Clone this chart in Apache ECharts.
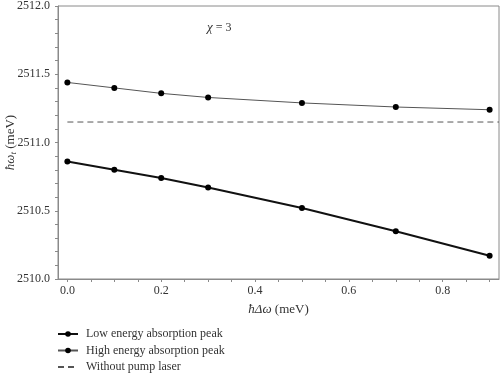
<!DOCTYPE html>
<html>
<head>
<meta charset="utf-8">
<script src="https://cdn.jsdelivr.net/npm/echarts@6/dist/echarts.min.js"></script>
<style>
  html, body { margin: 0; padding: 0; background: #fff; }
  #chart { width: 500px; height: 376px; }
</style>
</head>
<body>
<div id="chart"></div>
<script>
// detuning values (meV)
const detuning = [0.0, 0.1, 0.2, 0.3, 0.5, 0.7, 0.9];
const lowPeak = [2510.86, 2510.80, 2510.74, 2510.67, 2510.52, 2510.35, 2510.17];
const highPeak = [2511.44, 2511.40, 2511.36, 2511.33, 2511.29, 2511.26, 2511.24];
const noPumpX = [0.0, 0.92];
const noPumpLevel = 2511.15;
const xTickLabels = [0.0, 0.2, 0.4, 0.6, 0.8];
const xMinorTicks = [0, 0.05, 0.1, 0.15, 0.2, 0.25, 0.3, 0.35, 0.4, 0.45, 0.5, 0.55, 0.6, 0.65, 0.7, 0.75, 0.8, 0.85, 0.9];
const seriesNames = ["Low energy absorption peak", "High energy absorption peak", "Without pump laser"];

const font = "'Liberation Serif', 'DejaVu Serif', serif";
const chart = echarts.init(document.getElementById("chart"));

const option = {
  animation: false,
  textStyle: { fontFamily: font },
  grid: {
    left: 58, right: 1, top: 6, bottom: 97,
    outerBoundsMode: "none",
    containLabel: false,
    show: true, borderColor: "#8a8a8a", borderWidth: 1
  },
  legend: {
    orient: "vertical",
    left: 57, top: 328, height: 60, padding: 0,
    itemWidth: 20, itemHeight: 7, itemGap: 4.5,
    textStyle: { fontFamily: font, fontSize: 12, color: "#333", padding: [0, 0, 0, 3] },
    data: [
      seriesNames[0],
      seriesNames[1],
      { name: seriesNames[2], itemStyle: { opacity: 0 } }
    ]
  },
  graphic: [{
    type: "text", left: 207, top: 21,
    style: {
      text: "{i|χ} = 3",
      rich: { i: { fontStyle: "italic", fontFamily: font, fontSize: 13, fill: "#333" } },
      fontFamily: font, fontSize: 12, fill: "#333"
    }
  }],
  xAxis: {
    type: "value",
    min: -0.02, max: 0.92,
    name: "{i|ħΔω} (meV)",
    nameLocation: "middle",
    nameGap: 24,
    nameMoveOverlap: false,
    nameTextStyle: {
      fontFamily: font, fontSize: 13, color: "#333",
      rich: { i: { fontStyle: "italic", fontFamily: font, fontSize: 13, color: "#333" } }
    },
    axisLine: { onZero: false, lineStyle: { color: "#8a8a8a" } },
    axisTick: { customValues: xMinorTicks, length: 3, lineStyle: { color: "#8a8a8a" } },
    axisLabel: {
      customValues: xTickLabels, margin: 6,
      fontSize: 12, color: "#333", fontFamily: font,
      formatter: v => v.toFixed(1)
    },
    splitLine: { show: false }
  },
  yAxis: {
    type: "value",
    min: 2510, max: 2512, interval: 0.5,
    name: "{i|ħω}{s|t} (meV)",
    nameLocation: "middle",
    nameGap: 40,
    nameMoveOverlap: false,
    nameTextStyle: {
      fontFamily: font, fontSize: 13, color: "#333",
      rich: {
        i: { fontStyle: "italic", fontFamily: font, fontSize: 13, color: "#333" },
        s: { fontStyle: "italic", fontFamily: font, fontSize: 9, color: "#333", verticalAlign: "bottom", padding: [6, 0, 0, 0] }
      }
    },
    axisLine: { show: true, onZero: false, lineStyle: { color: "#8a8a8a" } },
    axisTick: { length: 3, lineStyle: { color: "#8a8a8a" } },
    minorTick: { show: true, splitNumber: 5, length: 3, lineStyle: { color: "#8a8a8a" } },
    axisLabel: {
      margin: 8, fontSize: 12, color: "#333", fontFamily: font,
      formatter: v => v.toFixed(1)
    },
    splitLine: { show: false }
  },
  series: [
    {
      name: seriesNames[0], type: "line",
      data: detuning.map((x, i) => [x, lowPeak[i]]),
      symbol: "circle", symbolSize: 6,
      lineStyle: { color: "#111", width: 2 },
      itemStyle: { color: "#000" }
    },
    {
      name: seriesNames[1], type: "line",
      data: detuning.map((x, i) => [x, highPeak[i]]),
      symbol: "circle", symbolSize: 6,
      lineStyle: { color: "#555", width: 1 },
      itemStyle: { color: "#000" }
    },
    {
      name: seriesNames[2], type: "line",
      data: noPumpX.map(x => [x, noPumpLevel]),
      symbol: "none",
      lineStyle: { color: "#555", width: 1, type: [6, 4] },
      itemStyle: { color: "#555" }
    }
  ]
};

chart.setOption(option);
</script>
</body>
</html>
